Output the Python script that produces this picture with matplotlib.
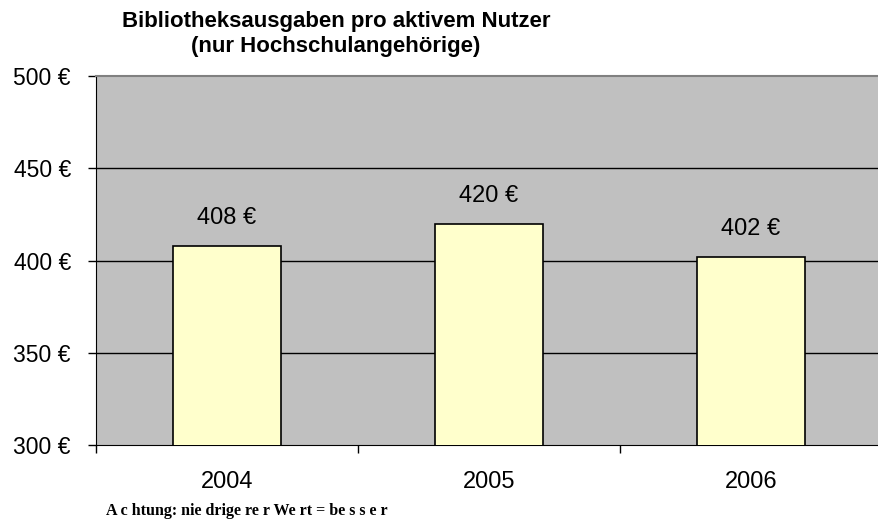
import matplotlib
matplotlib.use("Agg")
import matplotlib.pyplot as plt

categories = ["2004", "2005", "2006"]
values = [408, 420, 402]
yticks = [300, 350, 400, 450, 500]
title = "Bibliotheksausgaben pro aktivem Nutzer\n(nur Hochschulangehörige)"
note = "A c htung: nie drige re r We rt = be s s e r"

W, H = 879, 523
fig = plt.figure(figsize=(W/100, H/100), dpi=100)
left, right, top, bottom = 96, 882, 76, 445
ax = fig.add_axes([left/W, 1-bottom/H, (right-left)/W, (bottom-top)/H])
ax.set_facecolor("#C0C0C0")

x = list(range(len(categories)))
ax.bar(x, values, width=0.41, bottom=0, color="#FFFFCC", edgecolor="black", linewidth=1.2, zorder=3)
ax.set_xlim(-0.5, len(categories)-0.5)
ax.set_ylim(300, 500)
ax.set_yticks(yticks)
ax.set_yticklabels([f"{v} €" for v in yticks], fontsize=16.5, family="Liberation Sans")
for v in yticks[1:-1]:
    ax.axhline(v, color="black", linewidth=1, zorder=2)

ax.set_xticks([i+0.5 for i in range(len(categories)-1)] + [-0.5])
ax.set_xticklabels([])
ax.set_xticks(x, minor=True)
ax.set_xticklabels(categories, minor=True, fontsize=17, family="Liberation Sans")
ax.tick_params(axis="x", which="minor", length=0, pad=19)
ax.tick_params(axis="x", which="major", length=6, width=1, direction="out")
ax.tick_params(axis="y", length=6, width=1, direction="out", pad=12)

for xi, v in zip(x, values):
    ax.annotate(f"{v} €", (xi, v), xytext=(0, 12), textcoords="offset points",
                ha="center", va="bottom", fontsize=17, family="Liberation Sans")

ax.spines["top"].set_color("#808080")
ax.spines["top"].set_linewidth(1.5)
ax.spines["right"].set_visible(False)
ax.spines["left"].set_color("black")
ax.spines["bottom"].set_color("black")

fig.text(336/W, 1-11/H, title, ha="center", va="top", fontsize=16, fontweight="bold",
         family="Liberation Sans", linespacing=1.22)
fig.text(106/W, 1-511/H, note, ha="left", va="center", fontsize=11.5, fontweight="bold",
         family="Liberation Serif")

fig.savefig("out.png", dpi=100)
